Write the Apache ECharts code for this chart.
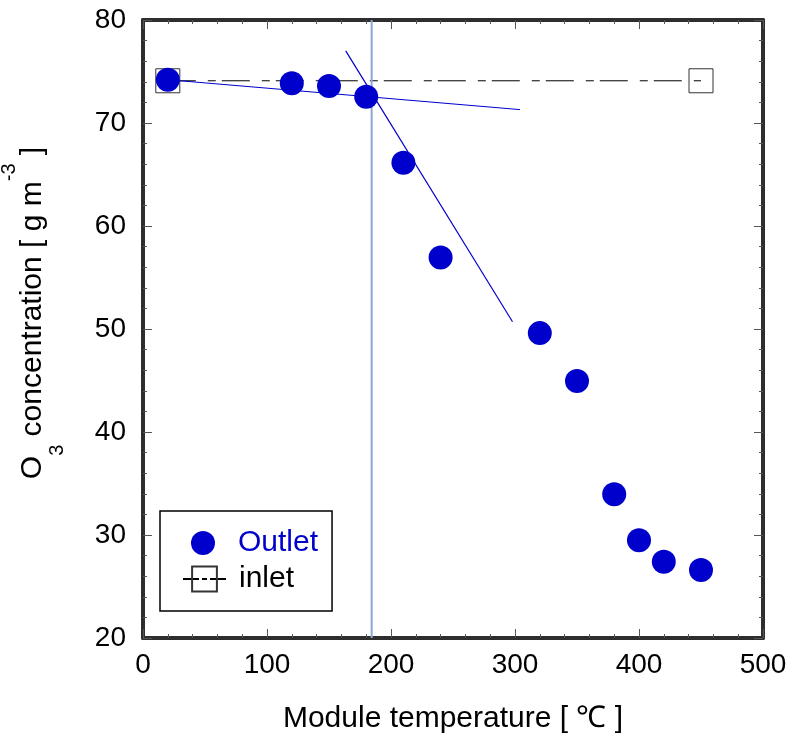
<!DOCTYPE html>
<html>
<head>
<meta charset="utf-8">
<script src="https://cdn.jsdelivr.net/npm/echarts@6/dist/echarts.min.js"></script>
<style>
html,body{margin:0;padding:0;background:#fff;}
#chart{width:792px;height:740px;}
</style>
</head>
<body>
<div id="chart"></div>
<script>
// ---- data ----
const outletTemp = [20, 120, 150, 180, 210, 240, 320, 350, 380, 400, 420, 450];
const outletO3   = [74.2, 73.85, 73.6, 72.55, 66.15, 56.95, 49.6, 44.95, 33.95, 29.5, 27.4, 26.6];
const inletTemp  = [20, 450];
const inletO3    = [74.1, 74.1];
const fitLowTemp  = [20, 304];
const fitLowO3    = [74.2, 71.3];
const fitHighTemp = [163.5, 298];
const fitHighO3   = [77.0, 50.7];
const onsetTemp   = 184.4;
const xRange = [0, 500];
const yRange = [20, 80];
const xStep = 100;
const yStep = 10;

const FONT = "'Liberation Sans', Arial, sans-serif";
const frameColor = '#2e2e2e';
const tickColor = '#555';

function pairs(xs, ys) { return xs.map((x, i) => [x, ys[i]]); }

const chart = echarts.init(document.getElementById('chart'), null, {renderer: 'canvas'});

function baseAxis(extra) {
  return Object.assign({
    type: 'value',
    axisLine: {show: true, onZero: false, lineStyle: {color: frameColor, width: 4}},
    axisTick: {show: true, inside: true, length: 9, lineStyle: {color: tickColor, width: 1}},
    minorTick: {show: true, splitNumber: 5, length: 4, lineStyle: {color: tickColor, width: 1}},
    splitLine: {show: false},
    minorSplitLine: {show: false}
  }, extra);
}

const option = {
  animation: false,
  backgroundColor: '#fff',
  textStyle: {fontFamily: FONT},
  grid: {left: 143, top: 20, width: 620, height: 618, containLabel: false, outerBoundsMode: 'none'},
  xAxis: [
    baseAxis({
      position: 'bottom', min: xRange[0], max: xRange[1], interval: xStep,
      axisLabel: {margin: 13, fontSize: 28, color: '#000', fontFamily: FONT},
      name: 'Module temperature [ \u2103 ]', nameLocation: 'middle', nameGap: 66,
      nameTextStyle: {fontSize: 30, color: '#000', fontFamily: FONT}
    }),
    baseAxis({
      position: 'top', min: xRange[0], max: xRange[1], interval: xStep,
      axisLabel: {show: false}
    })
  ],
  yAxis: [
    baseAxis({
      position: 'left', min: yRange[0], max: yRange[1], interval: yStep,
      axisLabel: {margin: 17, fontSize: 28, color: '#000', fontFamily: FONT},
      name: '{m|O}{sub|3}{m| concentration [ g m}{sup|-3}{m| ]}',
      nameLocation: 'middle', nameRotate: 90, nameGap: 76,
      nameTextStyle: {
        color: '#000', fontFamily: FONT, padding: [0, 0, 0, 32],
        rich: {
          m: {fontSize: 30, lineHeight: 68, color: '#000', fontFamily: FONT},
          sub: {fontSize: 20, lineHeight: 20, verticalAlign: 'bottom', color: '#000', fontFamily: FONT},
          sup: {fontSize: 20, lineHeight: 40, verticalAlign: 'top', color: '#000', fontFamily: FONT}
        }
      }
    }),
    baseAxis({
      position: 'right', min: yRange[0], max: yRange[1], interval: yStep,
      axisLabel: {show: false}
    })
  ],
  legend: [
    {
      left: 160, top: 511,
      orient: 'vertical',
      padding: [17, 14, 53, 31],
      itemWidth: 32, itemHeight: 24,
      borderColor: '#000', borderWidth: 1.5, backgroundColor: '#fff',
      textStyle: {fontSize: 30, fontFamily: FONT, padding: [0, 0, 0, 14]},
      data: [{name: 'Outlet', textStyle: {color: '#0000cc'}}]
    },
    {
      left: 182, top: 564, z: 6,
      orient: 'vertical',
      padding: 0,
      itemWidth: 43, itemHeight: 31,
      backgroundColor: 'transparent', borderWidth: 0,
      lineStyle: {type: [16, 3, 5, 3]},
      textStyle: {fontSize: 30, fontFamily: FONT, padding: [0, 0, 0, 8]},
      data: [{name: 'inlet', textStyle: {color: '#000'}}]
    }
  ],
  series: [
    {
      name: 'inlet', type: 'line', z: 2,
      data: pairs(inletTemp, inletO3),
      symbol: 'rect', symbolSize: 24,
      itemStyle: {color: 'rgba(0,0,0,0)', borderColor: '#333', borderWidth: 1},
      lineStyle: {color: '#000', width: 1, type: [28, 12, 8, 6]}
    },
    {
      name: 'fitLow', type: 'line', z: 3, silent: true,
      data: pairs(fitLowTemp, fitLowO3), showSymbol: false, symbol: 'none',
      lineStyle: {color: '#0000cc', width: 1}
    },
    {
      name: 'fitHigh', type: 'line', z: 3, silent: true,
      data: pairs(fitHighTemp, fitHighO3), showSymbol: false, symbol: 'none',
      lineStyle: {color: '#0000cc', width: 1.2}
    },
    {
      name: 'onset', type: 'line', z: 3, silent: true,
      data: [[onsetTemp, yRange[0]], [onsetTemp, yRange[1]]], showSymbol: false, symbol: 'none',
      lineStyle: {color: '#88a9d6', width: 2}
    },
    {
      name: 'Outlet', type: 'scatter', z: 5,
      data: pairs(outletTemp, outletO3),
      symbol: 'circle', symbolSize: 24,
      itemStyle: {color: '#0000cc', opacity: 1}
    }
  ]
};
chart.setOption(option);
</script>
</body>
</html>
